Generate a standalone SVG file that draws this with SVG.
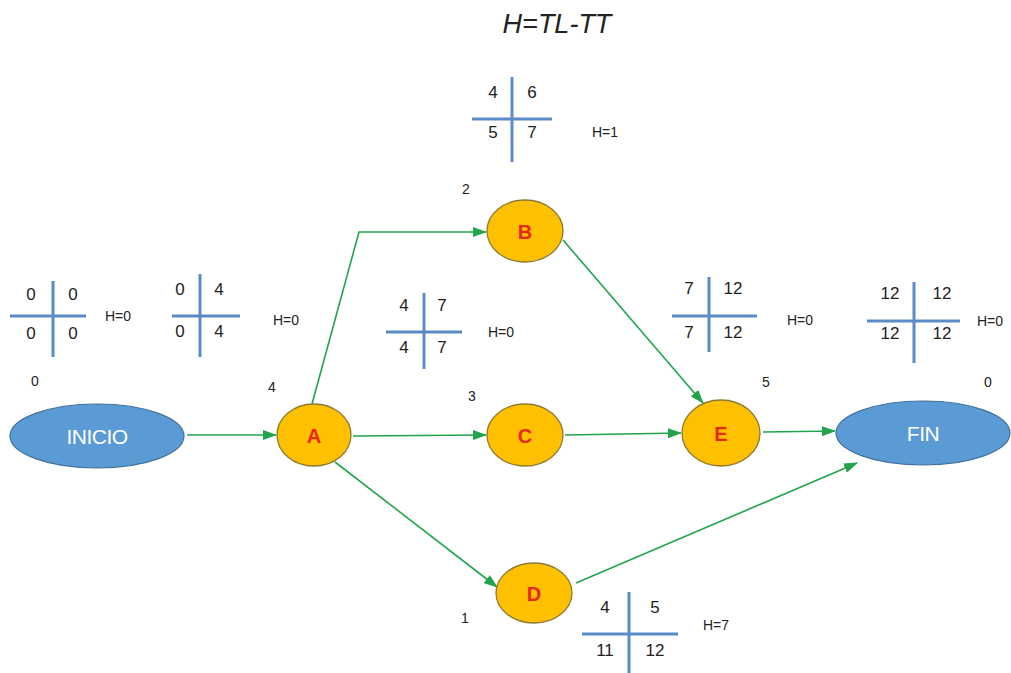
<svg xmlns="http://www.w3.org/2000/svg" width="1011" height="673" viewBox="0 0 1011 673">
<style>
text{font-family:"Liberation Sans",Arial,sans-serif;}
.cl{stroke:#5b8cc8;stroke-width:3;fill:none;}
.num{font-size:17px;fill:#222;text-anchor:middle;}
.h{font-size:14px;fill:#222;}
.dur{font-size:14px;fill:#222;text-anchor:middle;}
.act ellipse{fill:#ffc000;stroke:#8c7a34;stroke-width:1.3;}
.act text{font-size:20px;font-weight:bold;fill:#e8281e;text-anchor:middle;}
.ev ellipse{fill:#5b9bd5;stroke:#41719c;stroke-width:1.2;}
.ev text{font-size:21px;fill:#fff;text-anchor:middle;letter-spacing:-0.5px;}
.ar{stroke:#22a44c;stroke-width:1.6;fill:none;marker-end:url(#ah);}
</style>
<defs>
<marker id="ah" markerWidth="14" markerHeight="10" refX="13" refY="5" orient="auto" markerUnits="userSpaceOnUse">
<path d="M0,0 L14,5 L0,10 Z" fill="#22a44c"/>
</marker>
</defs>
<rect width="1011" height="673" fill="#fff"/>
<text x="557" y="33" font-size="27" font-style="italic" text-anchor="middle" fill="#222">H=TL-TT</text>

<g id="connectors">
<path class="ar" d="M187,435 L276,435"/>
<path class="ar" d="M312,404 L359,232 L486,232"/>
<path class="ar" d="M353,436 L486,435"/>
<path class="ar" d="M335,462 L497,587"/>
<path class="ar" d="M563,240 L703,403"/>
<path class="ar" d="M565,435 L681,433"/>
<path class="ar" d="M763,432 L835,431"/>
<path class="ar" d="M576,583 L857,463"/>
</g>

<g id="INICIO" class="ev"><ellipse cx="97" cy="436" rx="87" ry="32"/><text x="97" y="444">INICIO</text></g>
<g id="A" class="act"><ellipse cx="314" cy="435" rx="37" ry="31"/><text x="314" y="443">A</text></g>
<g id="B" class="act"><ellipse cx="525" cy="231" rx="38" ry="31"/><text x="525" y="239">B</text></g>
<g id="C" class="act"><ellipse cx="525" cy="435" rx="38" ry="31"/><text x="525" y="443">C</text></g>
<g id="D" class="act"><ellipse cx="534" cy="593" rx="38" ry="30"/><text x="534" y="601">D</text></g>
<g id="E" class="act"><ellipse cx="721" cy="433" rx="39" ry="33"/><text x="721" y="441">E</text></g>
<g id="FIN" class="ev"><ellipse cx="923" cy="433" rx="87" ry="32"/><text x="923" y="441">FIN</text></g>

<g id="durations">
<text class="dur" x="35" y="386">0</text>
<text class="dur" x="272" y="392">4</text>
<text class="dur" x="466" y="194">2</text>
<text class="dur" x="472" y="401">3</text>
<text class="dur" x="766" y="387">5</text>
<text class="dur" x="988" y="387">0</text>
<text class="dur" x="465" y="623">1</text>
</g>

<g id="cross-INICIO">
<path class="cl" d="M10,316 H86 M53,281 V357"/>
<text class="num" x="31" y="300">0</text><text class="num" x="73" y="300">0</text>
<text class="num" x="31" y="339">0</text><text class="num" x="73" y="339">0</text>
<text class="h" x="105" y="321">H=0</text>
</g>
<g id="cross-A">
<path class="cl" d="M172,316 H240 M200,274 V357"/>
<text class="num" x="180" y="295">0</text><text class="num" x="219" y="295">4</text>
<text class="num" x="180" y="337">0</text><text class="num" x="219" y="337">4</text>
<text class="h" x="273" y="325">H=0</text>
</g>
<g id="cross-B">
<path class="cl" d="M472,119 H552 M512,77 V162"/>
<text class="num" x="493" y="98">4</text><text class="num" x="532" y="98">6</text>
<text class="num" x="493" y="138">5</text><text class="num" x="532" y="138">7</text>
<text class="h" x="592" y="137">H=1</text>
</g>
<g id="cross-C">
<path class="cl" d="M386,332 H462 M424,293 V369"/>
<text class="num" x="404" y="311">4</text><text class="num" x="442" y="311">7</text>
<text class="num" x="404" y="353">4</text><text class="num" x="442" y="353">7</text>
<text class="h" x="488" y="337">H=0</text>
</g>
<g id="cross-E">
<path class="cl" d="M672,316 H757 M709,277 V352"/>
<text class="num" x="689" y="294">7</text><text class="num" x="733" y="294">12</text>
<text class="num" x="689" y="338">7</text><text class="num" x="733" y="338">12</text>
<text class="h" x="787" y="325">H=0</text>
</g>
<g id="cross-FIN">
<path class="cl" d="M867,321 H960 M914,282 V363"/>
<text class="num" x="890" y="299">12</text><text class="num" x="942" y="299">12</text>
<text class="num" x="890" y="339">12</text><text class="num" x="942" y="339">12</text>
<text class="h" x="977" y="326">H=0</text>
</g>
<g id="cross-D">
<path class="cl" d="M582,634 H678 M629,592 V673"/>
<text class="num" x="605" y="613">4</text><text class="num" x="655" y="613">5</text>
<text class="num" x="605" y="656">11</text><text class="num" x="655" y="656">12</text>
<text class="h" x="703" y="630">H=7</text>
</g>
</svg>
